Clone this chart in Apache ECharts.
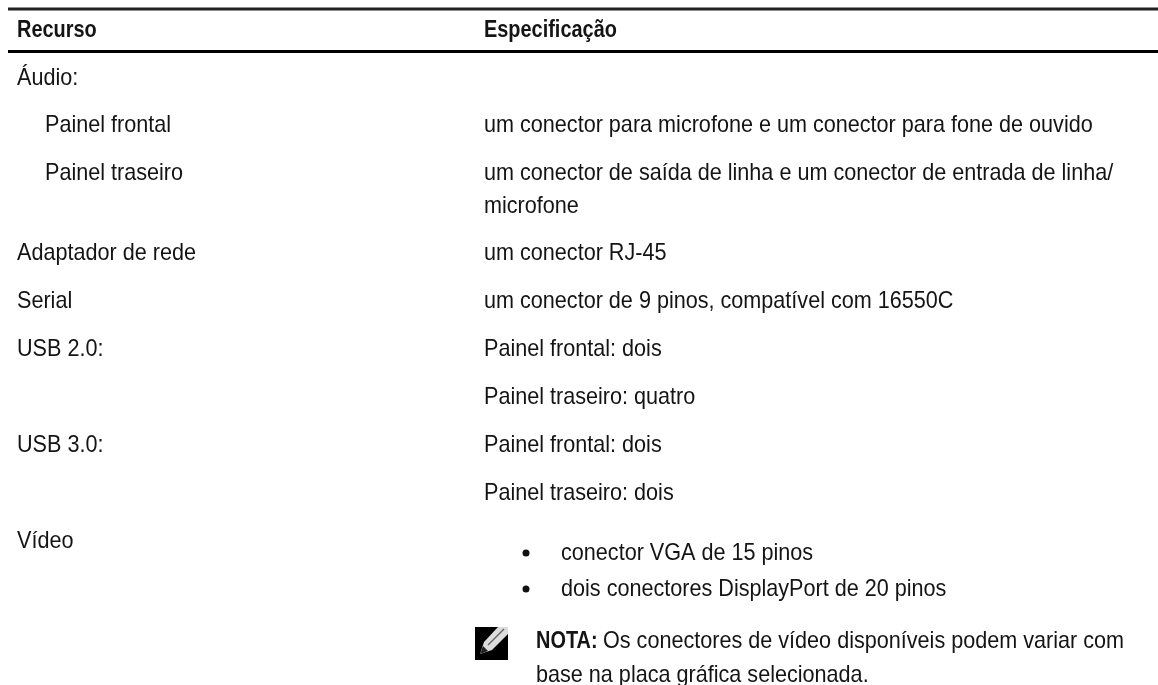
<!DOCTYPE html>
<html><head><meta charset="utf-8">
<style>html,body{margin:0;padding:0;background:#fff}#c{width:1158px;height:685px}</style>
<script src="https://cdn.jsdelivr.net/npm/echarts@6/dist/echarts.min.js"></script></head>
<body><div id="c"></div>
<script>
const headers = ["Recurso", "Especificação"];
const leftCells = ["Áudio:", "Painel frontal", "Painel traseiro", "Adaptador de rede", "Serial", "USB 2.0:", "USB 3.0:", "Vídeo"];
const rightCells = [
 "um conector para microfone e um conector para fone de ouvido",
 "um conector de saída de linha e um conector de entrada de linha/",
 "microfone",
 "um conector RJ-45",
 "um conector de 9 pinos, compatível com 16550C",
 "Painel frontal: dois",
 "Painel traseiro: quatro",
 "Painel frontal: dois",
 "Painel traseiro: dois"
];
const bulletCells = ["conector VGA de 15 pinos", "dois conectores DisplayPort de 20 pinos"];
const noteBold = "NOTA:";
const noteRest = "Os conectores de vídeo disponíveis podem variar com";
const noteLine2 = "base na placa gráfica selecionada.";

// layout of the page grid
const F = '"Liberation Sans", sans-serif';
const size = 24, sxReg = 0.9, sxBold = 0.83;
const items = [];
const t = (x,y,s,bold)=>items.push({k:'t',x,y,s,bold});
const leftY = [78,125,173,253,301,349,445,541];
const rightY = [125,173,206,253,301,349,397,445,493];
headers.forEach((h,i)=>t([17,484][i],30,h,true));
leftY.forEach((y,i)=>t((i==1||i==2)?45:17,y,leftCells[i]));
rightY.forEach((y,i)=>t(484,y,rightCells[i]));
[553,589].forEach((y,i)=>{items.push({k:'b',x:526,y:y});t(561,y,bulletCells[i]);});
t(536,641,noteBold,true); t(603,641,noteRest);
t(536,675,noteLine2);
items.push({k:'r',x:8,y:7.5,x2:1158,h:3,c:'#222'});
items.push({k:'r',x:8,y:50,x2:1158,h:3,c:'#000'});
items.push({k:'i',x:475,y:627});

const chart = echarts.init(document.getElementById('c'),null,{renderer:'canvas'});
chart.setOption({
 animation:false,
 grid:{left:0,right:0,top:0,bottom:0},
 xAxis:{type:'value',min:0,max:1158,show:false},
 yAxis:{type:'value',min:0,max:685,inverse:true,show:false},
 series:[{type:'custom',coordinateSystem:'cartesian2d',clip:false,silent:true,
  data:items.map((d,i)=>[d.x,d.y,i]),
  renderItem(p,api){
   const d=items[api.value(2)]; const c=api.coord([d.x,d.y]);
   if(d.k==='t') return {type:'text',x:c[0],y:c[1],scaleX:d.bold?sxBold:sxReg,style:{text:d.s,fill:'#141414',font:(d.bold?'bold ':'')+size+'px '+F,verticalAlign:'middle'}};
   if(d.k==='b') return {type:'circle',shape:{cx:c[0],cy:c[1],r:3.5},style:{fill:'#111'}};
   if(d.k==='r') {const e=api.coord([d.x2,d.y]);return {type:'rect',shape:{x:c[0],y:c[1],width:e[0]-c[0],height:d.h},style:{fill:d.c}};}
   if(d.k==='i') return {type:'group',x:c[0],y:c[1],children:[
     {type:'rect',shape:{x:0,y:0,width:33,height:33},style:{fill:'#000'}},
     {type:'polygon',shape:{points:[[5,27],[9,15],[23,0],[33,0],[33,7],[17,23]]},style:{fill:'#ddd'}},
     {type:'polygon',shape:{points:[[5,27],[8,19],[13,24]]},style:{fill:'#222'}},
     {type:'polyline',shape:{points:[[13,18],[29,2]]},style:{stroke:'#666',fill:null,lineWidth:1.5}}
   ]};
  }
 }]
});
</script></body></html>
